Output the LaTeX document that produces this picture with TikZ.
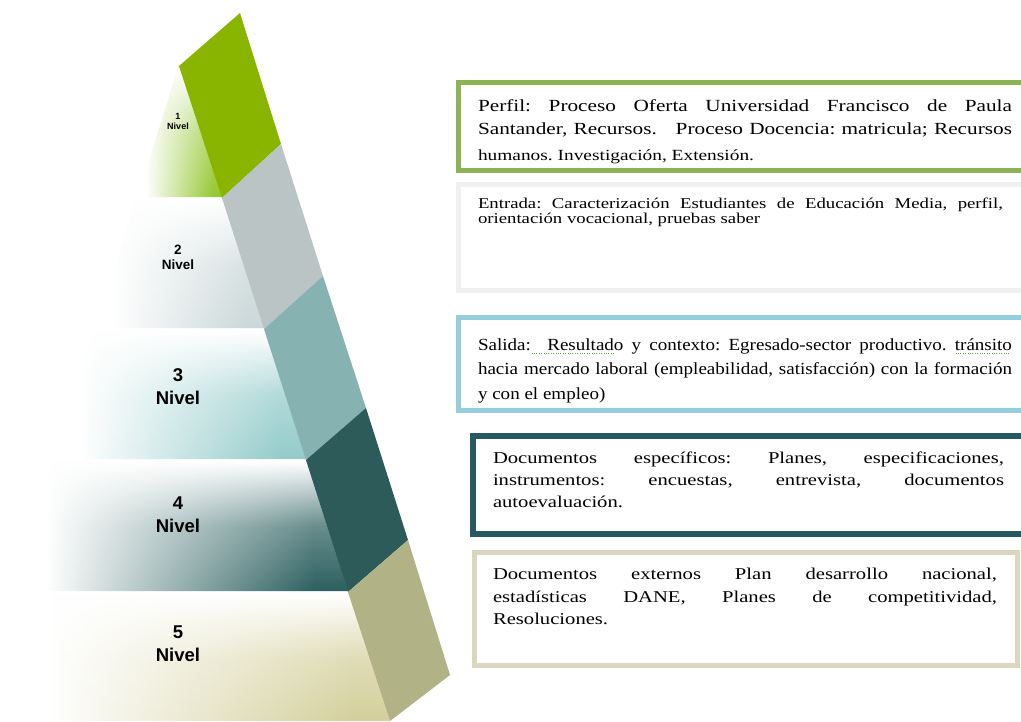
\documentclass[tikz,border=0pt]{standalone}
\usepackage{fontspec}
\setmainfont{Liberation Serif}
\newfontfamily\serifW[FakeStretch=1.25]{Liberation Serif}
\newfontfamily\serifM[FakeStretch=1.12]{Liberation Serif}
\newfontfamily\lblfont{Liberation Sans}
\usetikzlibrary{fadings}
\definecolor{pg1}{RGB}{137,180,0}
\definecolor{pg2}{RGB}{186,196,197}
\definecolor{pg3}{RGB}{134,178,177}
\definecolor{pg4}{RGB}{45,91,89}
\definecolor{pg5}{RGB}{178,178,135}
\definecolor{fc1}{RGB}{150,200,50}
\definecolor{fc2}{RGB}{203,216,217}
\definecolor{fc3}{RGB}{148,203,203}
\definecolor{fc4}{RGB}{45,96,96}
\definecolor{fc5}{RGB}{212,208,156}
\definecolor{bc1}{RGB}{141,179,84}
\definecolor{bc2}{RGB}{240,240,240}
\definecolor{bc3}{RGB}{148,205,220}
\definecolor{bc4}{RGB}{40,88,100}
\definecolor{bc5}{RGB}{218,214,192}
\definecolor{sqgreen}{RGB}{90,170,60}
\colorlet{fcol}{fc1}
\pgfdeclarehorizontalshading[fcol]{hsh}{100bp}{color(0bp)=(white); color(25bp)=(white); color(30bp)=(white); color(70bp)=(fcol); color(100bp)=(fcol)}
\tikzfading[name=topwhite, top color=transparent!0, bottom color=transparent!100, middle color=transparent!72]
\newcommand\jl[2]{\makebox[#1][s]{#2}}
\newcommand\sqg[1]{\setbox0=\hbox{#1}\rlap{\raisebox{-3.5pt}{\color{sqgreen}\hbox to \wd0{\leaders\hbox to 2.4pt{\hss\rule{1pt}{1pt}\hss}\hfill}}}#1}
\frenchspacing
\begin{document}
\begin{tikzpicture}[x=1pt,y=-1pt,
  lvl/.style={font=\lblfont\bfseries, align=center, inner sep=0pt, text=black},
  box/.style={draw, rectangle, outer sep=0pt, inner sep=0pt, anchor=north west},
  ln/.style={anchor=base west, inner sep=0pt, outer sep=0pt, text=black},
  fa/.style={font=\serifW\fontsize{17}{24}\selectfont},
  fa3/.style={font=\serifW\fontsize{15.5}{24}\selectfont},
  fb/.style={font=\serifW\fontsize{15}{15}\selectfont},
  fcs/.style={font=\serifM\fontsize{17}{24}\selectfont},
  fd/.style={font=\serifW\fontsize{16.5}{22}\selectfont},
  face/.style={shading=hsh},
  veil/.style={fill=white, path fading=topwhite}]
\useasboundingbox (0,0) rectangle (1021,721);
\clip (0,0) rectangle (1021,721);
\fill[white] (0,0) rectangle (1021,721);
% spine points
\coordinate (R0) at (179,66);
\coordinate (R1) at (222,198);
\coordinate (R2) at (264,329);
\coordinate (R3) at (306,460);
\coordinate (R4) at (348,592);
\coordinate (R5) at (390,721);
\coordinate (Q0) at (240,13);
\coordinate (Q1) at (281,144);
\coordinate (Q2) at (323,276);
\coordinate (Q3) at (366,408);
\coordinate (Q4) at (408,540);
\coordinate (Q5) at (450,675);
% front faces with shading
\colorlet{fcol}{fc1}
\shade[face] (179,66) -- (222,197) -- (137.4,197) -- cycle;
\path[veil] (179,66) -- (222,197) -- (137.4,197) -- cycle;
\colorlet{fcol}{fc2}
\shade[face] (136.5,200) -- (222.6,200) -- (264,328) -- (95.8,328) -- cycle;
\path[veil] (136.5,200) -- (222.6,200) -- (264,328) -- (95.8,328) -- cycle;
\colorlet{fcol}{fc3}
\shade[face] (94.9,331) -- (264.6,331) -- (306,459) -- (54.2,459) -- cycle;
\path[veil] (94.9,331) -- (264.6,331) -- (306,459) -- (54.2,459) -- cycle;
\colorlet{fcol}{fc4}
\shade[face] (53.3,462) -- (306.6,462) -- (348,591) -- (12.3,591) -- cycle;
\path[veil] (53.3,462) -- (306.6,462) -- (348,591) -- (12.3,591) -- cycle;
\colorlet{fcol}{fc5}
\shade[face] (11.4,594) -- (348.6,594) -- (390,721) -- (10,721) -- cycle;
\path[veil] (11.4,594) -- (348.6,594) -- (390,721) -- (10,721) -- cycle;
% side parallelograms
\fill[pg1] (R0) -- (Q0) -- (Q1) -- (R1) -- cycle;
\fill[pg2] (R1) -- (Q1) -- (Q2) -- (R2) -- cycle;
\fill[pg3] (R2) -- (Q2) -- (Q3) -- (R3) -- cycle;
\fill[pg4] (R3) -- (Q3) -- (Q4) -- (R4) -- cycle;
\fill[pg5] (R4) -- (Q4) -- (Q5) -- (R5) -- cycle;
% level labels
\node[lvl, font=\lblfont\bfseries\fontsize{9}{9.5}\selectfont] (n1) at (178,121.5) {1\\Nivel};
\node[lvl, font=\lblfont\bfseries\fontsize{13.5}{15}\selectfont] (n2) at (178,257.5) {2\\Nivel};
\node[lvl, font=\lblfont\bfseries\fontsize{18.5}{23}\selectfont] (n3) at (178,386.5) {3\\Nivel};
\node[lvl, font=\lblfont\bfseries\fontsize{18.5}{23}\selectfont] (n4) at (178,515) {4\\Nivel};
\node[lvl, font=\lblfont\bfseries\fontsize{18.5}{23}\selectfont] (n5) at (178,644) {5\\Nivel};
% boxes
\node[box, draw=bc1, line width=5pt, minimum width=571.5pt, minimum height=88pt] (b1) at (458.5,82.5) {};
\node[box, draw=bc2, line width=5pt, minimum width=571.5pt, minimum height=106pt] (b2) at (458.5,184.5) {};
\node[box, draw=bc3, line width=5pt, minimum width=571.5pt, minimum height=93pt] (b3) at (458.5,317.5) {};
\node[box, draw=bc4, line width=6pt, minimum width=557pt, minimum height=98pt] (b4) at (473,436) {};
\node[box, draw=bc5, line width=5pt, minimum width=543pt, minimum height=113pt] (b5) at (474.5,552.5) {};
% box texts
\node[ln, fa] (t1a) at (478,111) {\jl{534pt}{Perfil: Proceso Oferta Universidad Francisco de Paula}};
\node[ln, fa] (t1b) at (478,134) {\jl{534pt}{Santander, Recursos.\ \ \ Proceso Docencia: matricula; Recursos}};
\node[ln, fa3] (t1c) at (478,160) {humanos. Investigación, Extensión.};
\node[ln, fb] (t2a) at (478,208) {\jl{525pt}{Entrada: Caracterización Estudiantes de Educación Media, perfil,}};
\node[ln, fb] (t2b) at (478,223) {orientación vocacional, pruebas saber};
\node[ln, fcs] (t3a) at (478,350) {\jl{534pt}{Salida:\sqg{\ \ Resultado} y contexto: Egresado-sector productivo. \sqg{tránsito}}};
\node[ln, fcs] (t3b) at (478,374) {\jl{534pt}{hacia mercado laboral (empleabilidad, satisfacción) con la formación}};
\node[ln, fcs] (t3c) at (478,399) {y con el empleo)};
\node[ln, fd] (t4a) at (493,463) {\jl{511pt}{Documentos específicos: Planes, especificaciones,}};
\node[ln, fd] (t4b) at (493,485) {\jl{511pt}{instrumentos: encuestas, entrevista, documentos}};
\node[ln, fd] (t4c) at (493,507) {autoevaluación.};
\node[ln, fd] (t5a) at (493,579) {\jl{504pt}{Documentos externos Plan desarrollo nacional,}};
\node[ln, fd] (t5b) at (493,602) {\jl{504pt}{estadísticas DANE, Planes de competitividad,}};
\node[ln, fd] (t5c) at (493,624) {Resoluciones.};
\end{tikzpicture}
\end{document}
